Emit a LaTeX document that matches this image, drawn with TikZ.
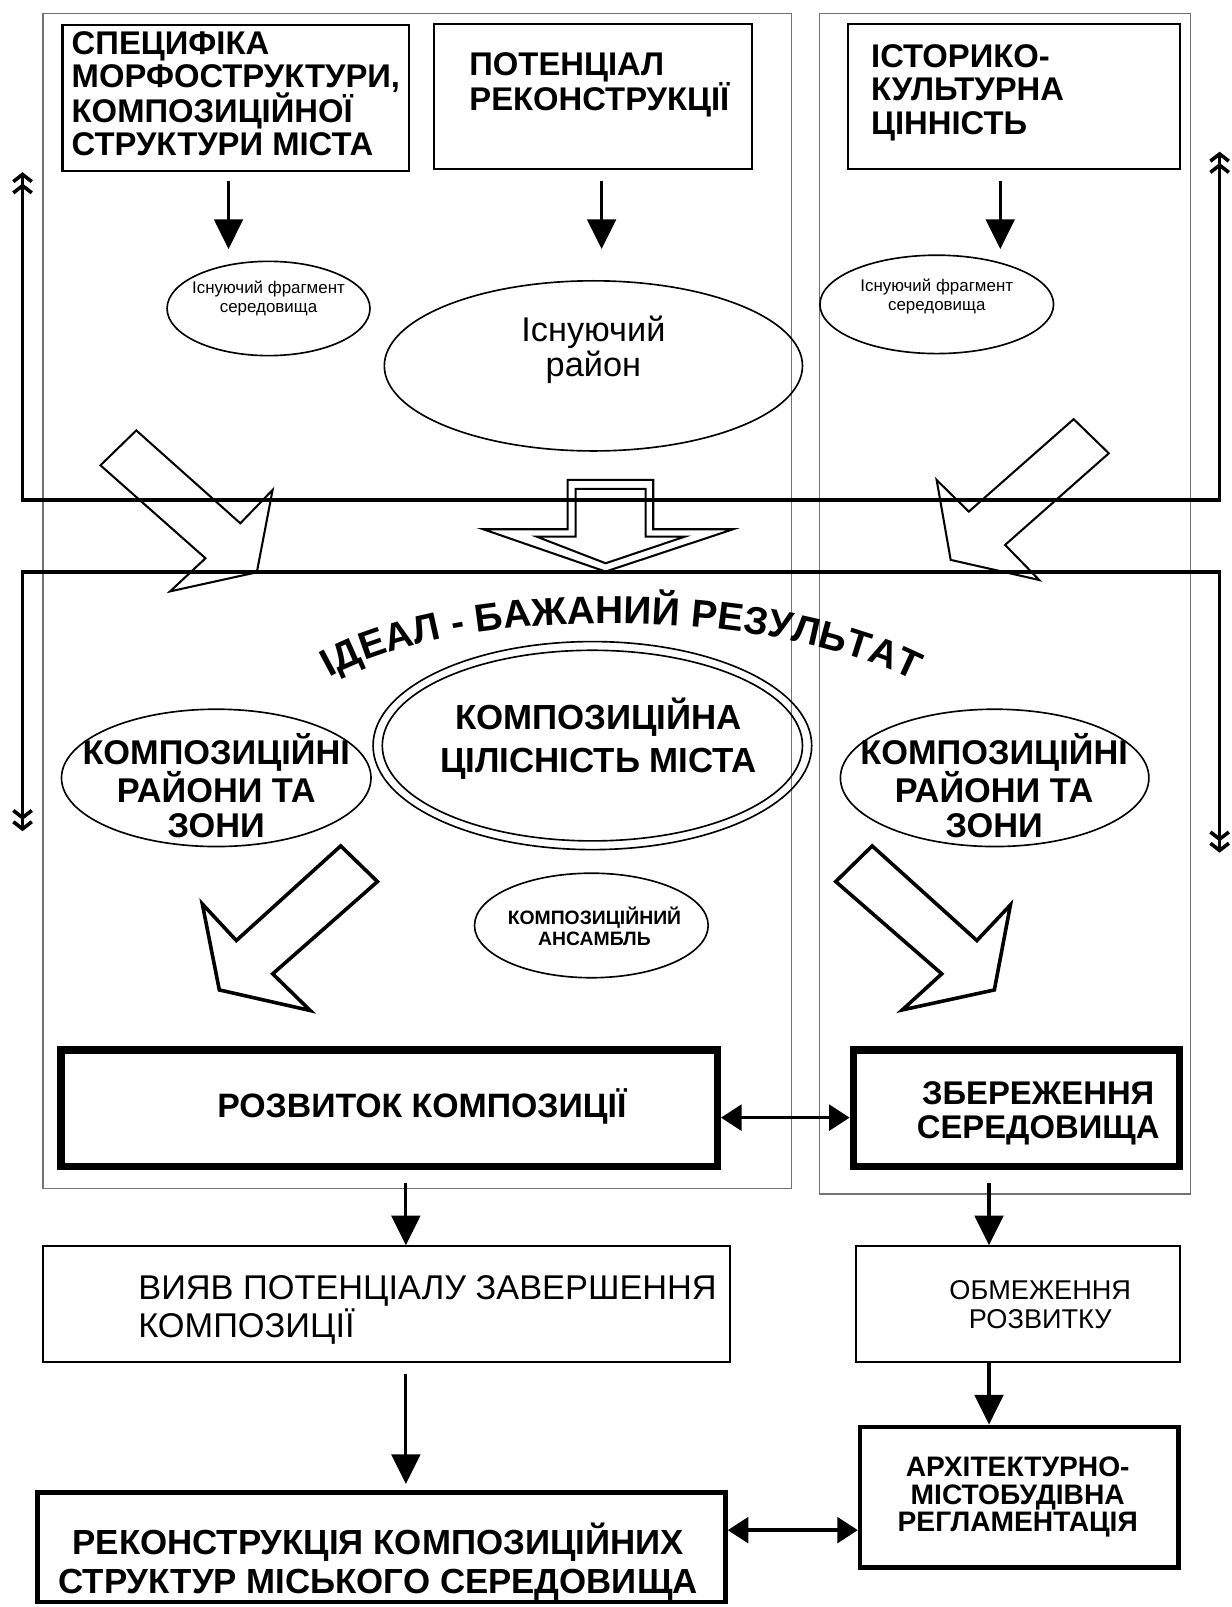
\documentclass[tikz,border=0pt]{standalone}
\usepackage{fontspec}
\setmainfont{Liberation Sans}
\usetikzlibrary{arrows.meta,shapes.geometric,decorations.text}
\newcommand\fbold[2]{\fontsize{#1}{#2}\selectfont\bfseries}
\newcommand\freg[2]{\fontsize{#1}{#2}\selectfont}
\newcommand\arcfont{\fontsize{38}{38}\selectfont\bfseries}
\begin{document}
\begin{tikzpicture}[x=1pt,y=-1pt,
  cont/.style={draw=black!55, line width=1.1pt},
  box/.style={draw, line width=2pt, inner sep=0pt},
  ell/.style={draw, ellipse, line width=1.6pt, inner sep=0pt},
  txt/.style={inner sep=0pt, outer sep=0pt},
  arr/.style={line width=3pt, -{Triangle[length=29pt,width=28pt]}},
  darr/.style={line width=3.5pt, {Triangle[length=20pt,width=25pt]}-{Triangle[length=20pt,width=25pt]}},
  fb/.style={line width=3.5pt, line join=miter, {Straight Barb[length=7pt,width=18pt]Straight Barb[length=7pt,width=18pt]}-{Straight Barb[length=7pt,width=18pt]Straight Barb[length=7pt,width=18pt]}},
  hollowA/.style={draw, line width=2pt, line join=miter},
  hollowB/.style={draw, line width=3.5pt, line join=miter},
]
\useasboundingbox (0,0) rectangle (1202,1568);
\fill[white] (0,0) rectangle (1202,1568);

% containers
\draw[cont] (42,13) rectangle (772,1160);
\draw[cont] (800,13) rectangle (1162,1165);

% top boxes
\node[box, minimum width=338, minimum height=143] (b1) at (230,95.5) {};
\node[box, minimum width=311, minimum height=142] (b2) at (578.5,94) {};
\node[box, minimum width=324, minimum height=142] (b3) at (989,94) {};
\node[txt, anchor=base west, align=left, font=\fbold{32}{31.5}] (t1) at (70,151.5)
  {СПЕЦИФІКА\\МОРФОСТРУКТУРИ,\\КОМПОЗИЦІЙНОЇ\\СТРУКТУРИ МІСТА};
\node[txt, anchor=base west, align=left, font=\fbold{32}{34}] (t2) at (458,107.5)
  {ПОТЕНЦІАЛ\\РЕКОНСТРУКЦІЇ};
\node[txt, anchor=base west, align=left, font=\fbold{32}{33}] (t3) at (850,131.5)
  {ІСТОРИКО-\\КУЛЬТУРНА\\ЦІННІСТЬ};

% ellipses row 1
\node[ell, minimum width=198, minimum height=92] (e1) at (262,301) {};
\node[ell, minimum width=408, minimum height=166] (e2) at (579,357) {};
\node[ell, minimum width=228, minimum height=96] (e3) at (914,297) {};
\node[txt, anchor=base, align=center, font=\freg{16.5}{19}] (te1) at (262,305) {Існуючий фрагмент\\середовища};
\node[txt, anchor=base, align=center, font=\freg{33.5}{34}] (te2) at (579,367) {Існуючий\\район};
\node[txt, anchor=base, align=center, font=\freg{16.5}{19}] (te3) at (914,303) {Існуючий фрагмент\\середовища};

% arrows top
\coordinate (a1s) at (223,177); \coordinate (a1e) at (223,243);
\coordinate (a2s) at (587,177); \coordinate (a2e) at (587,243);
\coordinate (a3s) at (976,177); \coordinate (a3e) at (976,243);
\draw[arr] (a1s) -- (a1e);
\draw[arr] (a2s) -- (a2e);
\draw[arr] (a3s) -- (a3e);

% feedback loops
\coordinate (fu1) at (22,168); \coordinate (fu2) at (22,488);
\coordinate (fu3) at (1190,488); \coordinate (fu4) at (1190,148);
\draw[fb] (fu1) -- (fu2) -- (fu3) -- (fu4);
\coordinate (fd1) at (22,811); \coordinate (fd2) at (22,558);
\coordinate (fd3) at (1190,558); \coordinate (fd4) at (1190,832);
\draw[fb] (fd1) -- (fd2) -- (fd3) -- (fd4);

% hollow arrows upper
\draw[hollowA] (133,420) -- (234.5,510.6) -- (266,478) -- (250.6,558.4) -- (166,577) -- (200.5,544.7) -- (98,454) -- cycle;
\draw[hollowA] (1047.6,409) -- (945.3,499.2) -- (913.9,468.3) -- (927.6,546.3) -- (1014,565.9) -- (980.7,531.7) -- (1081.9,442.3) -- cycle;
\draw[hollowA] (553.9,468.3) -- (637.4,468.3) -- (637.4,516.4) -- (715.4,516.4) -- (590.9,557.7) -- (471.5,516.4) -- (553.9,516.4) -- cycle;
\draw[hollowA] (561.6,477) -- (630,477) -- (630,523.6) -- (668.3,523.6) -- (590.9,549.6) -- (523.6,523.6) -- (561.6,523.6) -- cycle;

% arc text
\coordinate (arcA) at (304,672); \coordinate (arcB) at (420,588);
\coordinate (arcC) at (760,585); \coordinate (arcD) at (910,674);
\path[decorate, decoration={text along path, text align={center},
  text={|\arcfont|ІДЕАЛ - БАЖАНИЙ РЕЗУЛЬТАТ}}] (arcA) .. controls (arcB) and (arcC) .. (arcD);

% ellipses row 2
\node[ell, minimum width=302, minimum height=134] (e4) at (211,759) {};
\node[ell, minimum width=428, minimum height=203] (e5o) at (578,727.5) {};
\node[ell, minimum width=410, minimum height=186] (e5i) at (578,727.5) {};
\node[ell, minimum width=301, minimum height=134] (e6) at (970.5,759) {};
\node[ell, minimum width=228, minimum height=102] (e7) at (577,903) {};
\node[txt, anchor=base, align=center, font=\fbold{33.5}{33.5}] (te4) at (211,817) {КОМПОЗИЦІЙНІ\\РАЙОНИ ТА\\ЗОНИ};
\node[txt, anchor=base, align=center, font=\fbold{34}{42}] (te5) at (584,754) {КОМПОЗИЦІЙНА\\ЦІЛІСНІСТЬ МІСТА};
\node[txt, anchor=base, align=center, font=\fbold{33.5}{33.5}] (te6) at (970,817) {КОМПОЗИЦІЙНІ\\РАЙОНИ ТА\\ЗОНИ};
\node[txt, anchor=base, align=center, font=\fbold{18.9}{21}] (te7) at (580,923) {КОМПОЗИЦІЙНИЙ\\АНСАМБЛЬ};

% hollow arrows lower
\draw[hollowB] (332.4,825.4) -- (368.3,860.2) -- (266.1,950.2) -- (302.7,986) -- (214,965.9) -- (197.4,882) -- (230.6,917.7) -- cycle;
\draw[hollowB] (851,825.4) -- (815.5,860.2) -- (918.9,950.2) -- (880.4,985.4) -- (970.2,965.9) -- (985.9,883) -- (953.2,917.7) -- cycle;

% thick boxes
\node[box, line width=7pt, minimum width=640.5, minimum height=114] (b4) at (379.75,1081.5) {};
\node[box, line width=7pt, minimum width=318, minimum height=114] (b5) at (991.5,1081.5) {};
\node[txt, anchor=base west, font=\fbold{33}{34}] (t4) at (212,1090) {РОЗВИТОК КОМПОЗИЦІЇ};
\node[txt, anchor=base, align=center, font=\fbold{32}{33}] (t5) at (1013,1111) {ЗБЕРЕЖЕННЯ\\СЕРЕДОВИЩА};
\draw[darr] ([yshift=-9pt]b4.east) -- ([yshift=-9pt]b5.west);

% lower boxes
\node[box, minimum width=670.5, minimum height=112.5] (b6) at (376.75,1272.25) {};
\node[box, minimum width=316, minimum height=112.5] (b7) at (993,1272.25) {};
\node[txt, anchor=base west, align=left, font=\freg{33.5}{37}] (t6) at (135,1305) {ВИЯВ ПОТЕНЦІАЛУ ЗАВЕРШЕННЯ\\КОМПОЗИЦІЇ};
\node[txt, anchor=base, align=center, font=\freg{26.5}{28.5}] (t7) at (1015,1296) {ОБМЕЖЕННЯ\\РОЗВИТКУ};

\node[box, line width=4.5pt, minimum width=310.5, minimum height=137] (b8) at (994.5,1460.9) {};
\node[box, line width=4.5pt, minimum width=671, minimum height=107] (b9) at (372.35,1509.5) {};
\node[txt, anchor=base, align=center, font=\fbold{27.5}{26.5}] (t8) at (993,1494) {АРХІТЕКТУРНО-\\МІСТОБУДІВНА\\РЕГЛАМЕНТАЦІЯ};
\node[txt, anchor=base, align=center, font=\fbold{34}{38}] (t9) at (369,1555) {РЕКОНСТРУКЦІЯ КОМПОЗИЦІЙНИХ\\СТРУКТУР МІСЬКОГО СЕРЕДОВИЩА};

% lower arrows
\coordinate (a4s) at (396,1154); \coordinate (a4e) at (396,1215);
\coordinate (a5s) at (965,1154); \coordinate (a5e) at (965,1215);
\coordinate (a6s) at (396,1341); \coordinate (a6e) at (396,1448);
\coordinate (a7s) at (965,1329.5); \coordinate (a7e) at (965,1390);
\draw[arr] (a4s) -- (a4e);
\draw[arr] (a5s) -- (a5e);
\draw[arr] (a6s) -- (a6e);
\draw[arr] (a7s) -- (a7e);
\draw[darr] (b9.east |- 0,1493) -- (b8.west |- 0,1493);
\end{tikzpicture}
\end{document}
